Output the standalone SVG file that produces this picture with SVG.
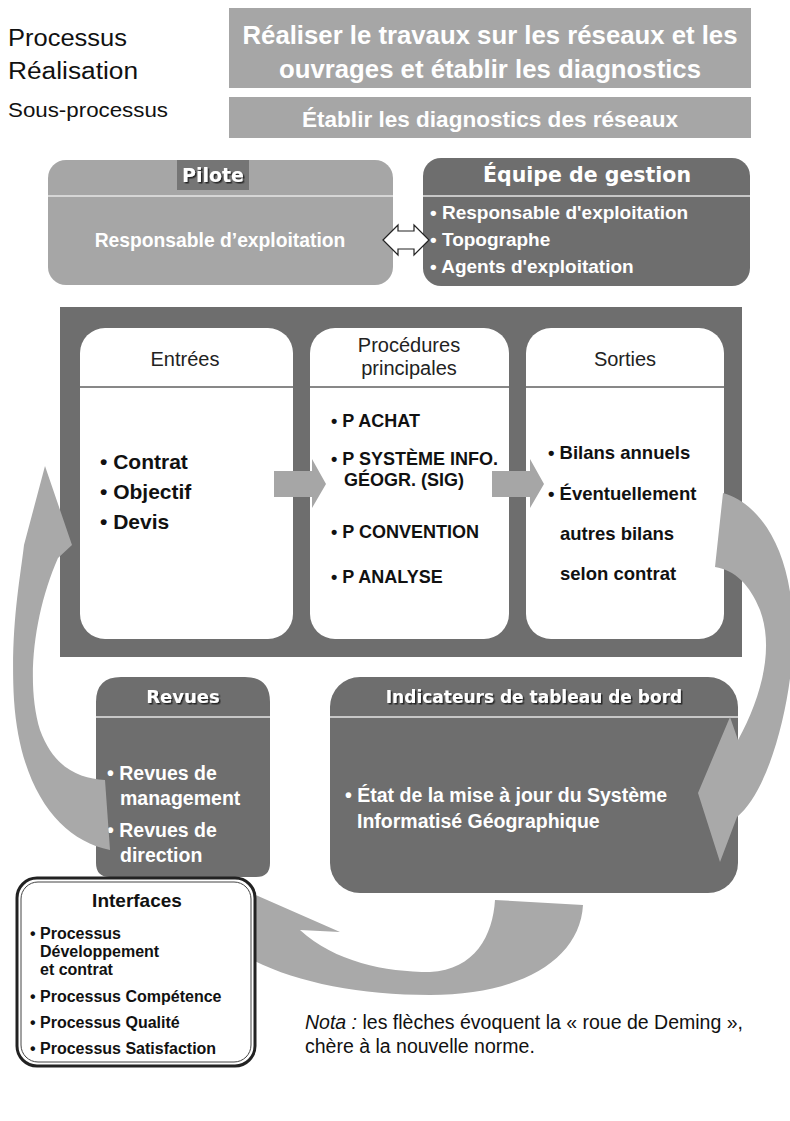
<svg xmlns="http://www.w3.org/2000/svg" width="790" height="1121" viewBox="0 0 790 1121">
<defs>
<style>
.sans{font-family:"Liberation Sans",Arial,sans-serif}
.head{font-family:"Liberation Sans",Arial,sans-serif;font-weight:bold;fill:#fff;text-anchor:middle}
.lbl{font-family:"Liberation Sans",Arial,sans-serif;fill:#111}
.title{font-family:"DejaVu Sans","Liberation Sans",sans-serif;font-weight:bold;fill:#fff;text-anchor:middle}
.wb{font-family:"Liberation Sans",Arial,sans-serif;font-weight:bold;fill:#fff}
.bb{font-family:"Liberation Sans",Arial,sans-serif;font-weight:bold;fill:#111}
.col{font-family:"Liberation Sans",Arial,sans-serif;fill:#222;text-anchor:middle}
.light{fill:#a6a6a6}
.dark{fill:#6e6e6e}
.white{fill:#fff}
.sep{stroke:#e6e6e6;stroke-width:1.5}
.rule{stroke:#111;stroke-width:1}
.curve{fill:#a9a9a9}
</style>
<filter id="sh" x="-10%" y="-30%" width="120%" height="160%">
<feDropShadow dx="1.5" dy="1.5" stdDeviation="0.6" flood-color="#1a1a1a" flood-opacity="0.9"/>
</filter>
</defs>
<rect width="790" height="1121" fill="#fff"/>

<g id="header">
<text class="lbl" x="8" y="46" font-size="23" textLength="119" lengthAdjust="spacingAndGlyphs">Processus</text>
<text class="lbl" x="8" y="79" font-size="23" textLength="130" lengthAdjust="spacingAndGlyphs">Réalisation</text>
<text class="lbl" x="8" y="117" font-size="21" textLength="160" lengthAdjust="spacingAndGlyphs">Sous-processus</text>
</g>
<g id="processus">
<rect class="light" x="229" y="8" width="522" height="80"/>
<text class="head" x="490" y="44" font-size="25" textLength="495" lengthAdjust="spacingAndGlyphs">Réaliser le travaux sur les réseaux et les</text>
<text class="head" x="490" y="78" font-size="25" textLength="422" lengthAdjust="spacingAndGlyphs">ouvrages et établir les diagnostics</text>
</g>
<g id="sous-processus">
<rect class="light" x="229" y="97" width="522" height="41"/>
<text class="head" x="490" y="127" font-size="22" textLength="376" lengthAdjust="spacingAndGlyphs">Établir les diagnostics des réseaux</text>
</g>

<g id="pilote">
<rect class="light" x="48" y="160" width="345" height="125" rx="18"/>
<line class="sep" x1="48" y1="196" x2="393" y2="196"/>
<rect x="177" y="160" width="72" height="30" fill="#757575"/>
<text class="title" x="213" y="182" font-size="19" filter="url(#sh)">Pilote</text>
<text class="head" x="220" y="247" font-size="19.3">Responsable d’exploitation</text>
</g>

<g id="equipe">
<rect class="dark" x="423" y="158" width="327" height="128" rx="18"/>
<line class="sep" x1="423" y1="196" x2="750" y2="196"/>
<text class="title" x="587" y="182" font-size="20.5">Équipe de gestion</text>
<text class="wb" x="430" y="219" font-size="19">• Responsable d'exploitation</text>
<text class="wb" x="430" y="246" font-size="19">• Topographe</text>
<text class="wb" x="430" y="273" font-size="19">• Agents d'exploitation</text>
</g>

<g id="main">
<rect class="dark" x="60" y="307" width="682" height="350"/>
</g>
<g id="entrees">
<rect class="white" x="80" y="328" width="213" height="311" rx="25"/>
<line class="rule" x1="80" y1="387" x2="293" y2="387"/>
<text class="col" x="185" y="366" font-size="20">Entrées</text>
<text class="bb" x="100" y="469" font-size="21">• Contrat</text>
<text class="bb" x="100" y="499" font-size="21">• Objectif</text>
<text class="bb" x="100" y="529" font-size="21">• Devis</text>
</g>
<g id="procedures">
<rect class="white" x="310" y="328" width="199" height="311" rx="25"/>
<line class="rule" x1="310" y1="387" x2="509" y2="387"/>
<text class="col" x="409" y="352" font-size="20">Procédures</text>
<text class="col" x="409" y="375" font-size="20">principales</text>
<text class="bb" x="331" y="427" font-size="18">• P ACHAT</text>
<text class="bb" x="331" y="465" font-size="18">• P SYSTÈME INFO.</text>
<text class="bb" x="344" y="485.5" font-size="18">GÉOGR. (SIG)</text>
<text class="bb" x="331" y="538" font-size="18">• P CONVENTION</text>
<text class="bb" x="331" y="583" font-size="18">• P ANALYSE</text>
</g>
<g id="sorties">
<rect class="white" x="526" y="328" width="198" height="311" rx="25"/>
<line class="rule" x1="526" y1="387" x2="724" y2="387"/>
<text class="col" x="625" y="366" font-size="20">Sorties</text>
<text class="bb" x="548" y="459" font-size="18.5">• Bilans annuels</text>
<text class="bb" x="548" y="500" font-size="18.5">• Éventuellement</text>
<text class="bb" x="560" y="540" font-size="18.5">autres bilans</text>
<text class="bb" x="560" y="580" font-size="18.5">selon contrat</text>
</g>

<g id="revues">
<path class="dark" d="M96,877 V702 Q96,677 121,677 H245 Q270,677 270,702 V863 Q270,877 256,877 H110 Q96,877 96,863 Z"/>
<line class="sep" x1="96" y1="717" x2="270" y2="717"/>
<text class="title" x="183" y="703" font-size="18" filter="url(#sh)">Revues</text>
<text class="wb" x="107" y="780" font-size="19.5">• Revues de</text>
<text class="wb" x="120" y="805" font-size="19.5">management</text>
<text class="wb" x="107" y="837" font-size="19.5">• Revues de</text>
<text class="wb" x="120" y="862" font-size="19.5">direction</text>
</g>

<g id="indicateurs">
<rect class="dark" x="330" y="677" width="408" height="216" rx="30"/>
<line class="sep" x1="330" y1="717" x2="738" y2="717"/>
<text class="title" x="534" y="703" font-size="17" filter="url(#sh)">Indicateurs de tableau de bord</text>
<text class="wb" x="345" y="802" font-size="19.5">• État de la mise à jour du Système</text>
<text class="wb" x="357" y="828" font-size="19.5">Informatisé Géographique</text>
</g>

<g id="connectors">
<polygon class="light" points="274,471 312,471 312,459 326,484 312,508 312,497 274,497"/>
<polygon class="light" points="492,471 530,471 530,459 544,484 530,508 530,497 492,497"/>
<polygon points="383,240 398,225 398,231 414,231 414,225 429,240 414,255 414,249 398,249 398,255" fill="#fff" stroke="#222" stroke-width="1.2"/>
<path class="curve" d="M45,466 L72,545 L58,558 C35,610 25,680 40,730 C55,770 80,778 105,780 L110,850 C60,840 20,790 14,700 C10,630 20,580 24,545 Z"/>
<path class="curve" d="M723,493 C765,505 795,560 793,640 C792,700 770,790 737,817 L720,862 L698,793 L730,717 L738,740 C760,700 775,650 760,610 C750,585 735,570 715,567 Z"/>
<path class="curve" d="M495,900 L583,905 C580,960 520,995 430,995 C330,995 245,970 205,925 L172,922 L240,888 L340,932 L300,930 C335,962 385,972 430,972 C475,970 493,935 495,900 Z"/>
</g>

<g id="interfaces">
<rect x="17" y="878" width="238" height="188" rx="20" fill="#fff" stroke="#222" stroke-width="3"/>
<rect x="21" y="882" width="230" height="180" rx="17" fill="none" stroke="#444" stroke-width="1"/>
<text class="sans" x="137" y="907" font-size="19" font-weight="bold" fill="#111" text-anchor="middle">Interfaces</text>
<text class="bb" x="30" y="939" font-size="16">• Processus</text>
<text class="bb" x="40" y="957" font-size="16">Développement</text>
<text class="bb" x="40" y="975" font-size="16">et contrat</text>
<text class="bb" x="30" y="1002" font-size="16">• Processus Compétence</text>
<text class="bb" x="30" y="1028" font-size="16">• Processus Qualité</text>
<text class="bb" x="30" y="1054" font-size="16">• Processus Satisfaction</text>
</g>

<g id="nota">
<text class="sans" x="305" y="1029" font-size="19.5" fill="#111"><tspan font-style="italic">Nota :</tspan> les flèches évoquent la « roue de Deming »,</text>
<text class="sans" x="305" y="1053" font-size="19.5" fill="#111">chère à la nouvelle norme.</text>
</g>
</svg>
